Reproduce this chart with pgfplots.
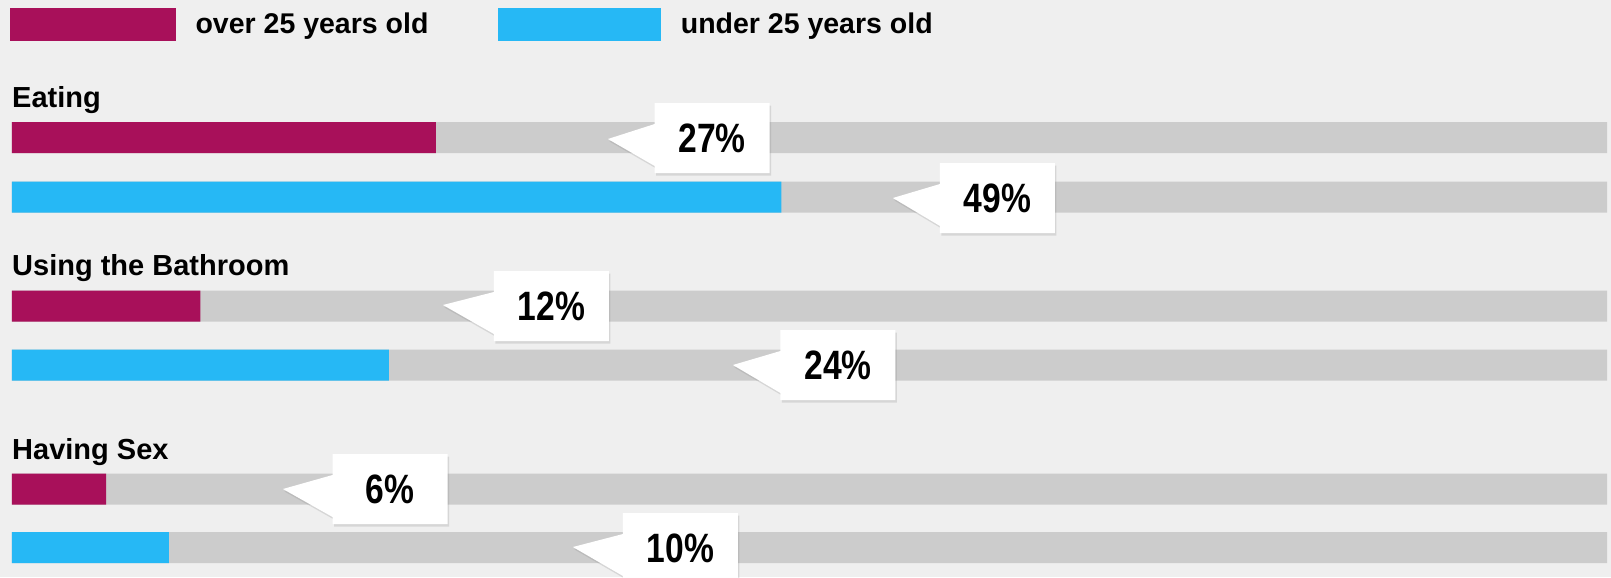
\documentclass[border=0pt]{standalone}
\usepackage{fontspec}
\setmainfont{Liberation Sans}
\newfontfamily\labfont{Liberation Sans}
\newfontfamily\pctfont[FakeStretch=0.82]{Liberation Sans}
\usepackage{pgfplots}
\pgfplotsset{compat=1.18}
\usetikzlibrary{shapes.callouts,shadows}

\definecolor{overc}{RGB}{168,16,90}
\definecolor{underc}{RGB}{38,184,245}
\definecolor{trackc}{RGB}{204,204,204}
\definecolor{paper}{RGB}{239,239,239}

\tikzset{
  pct/.style={rectangle callout, fill=white, draw=none,
    minimum width=115bp, minimum height=70bp, inner sep=0pt,
    callout pointer width=42bp,
    font=\pctfont\bfseries\fontsize{41bp}{46bp}\selectfont,
    drop shadow={shadow xshift=1.5bp, shadow yshift=-2.5bp, opacity=0.22}},
  cat/.style={anchor=base west, inner sep=0pt,
    font=\labfont\bfseries\fontsize{29bp}{34bp}\selectfont}
}

\begin{document}
\begin{tikzpicture}
\begin{axis}[
    scale only axis,
    width=1611bp, height=577bp,
    xmin=-0.764, xmax=101.85,
    ymin=0, ymax=577, y dir=reverse,
    axis lines=none, ticks=none,
    axis background/.style={fill=paper},
    clip=false,
    legend columns=2,
    legend style={at={(0.0062,0.9584)}, anchor=west, draw=none, fill=none,
        inner sep=0pt, nodes={inner sep=0pt},
        font=\labfont\bfseries\fontsize{28.5bp}{34bp}\selectfont,
        /tikz/every odd column/.append style={column sep=20bp},
        /tikz/every even column/.append style={column sep=70bp}},
]
% grey tracks
\addplot[xbar, bar shift=0pt, bar width=31, fill=trackc, draw=none, forget plot]
  coordinates {(101.6,137.5) (101.6,197) (101.6,306) (101.6,365) (101.6,489) (101.6,547.5)};
% over 25
\addplot[xbar, bar shift=0pt, bar width=31, fill=overc, draw=none, forget plot]
  coordinates {(27,137.5) (12,306) (6,489)};
% under 25
\addplot[xbar, bar shift=0pt, bar width=31, fill=underc, draw=none, forget plot]
  coordinates {(49,197) (24,365) (10,547.5)};

\addlegendimage{legend image code/.code={\fill[overc] (0bp,-16bp) rectangle (165bp,16bp);}}
\addlegendentry{over 25 years old}
\addlegendimage{legend image code/.code={\fill[underc] (0bp,-16bp) rectangle (162bp,16bp);}}
\addlegendentry{under 25 years old}

\node[cat] at (axis cs:0,107) {Eating};
\node[cat] at (axis cs:0,275) {Using the Bathroom};
\node[cat] at (axis cs:0,459) {Having Sex};

\node[pct, callout absolute pointer={(axis cs:37.96,139)}] at (axis cs:44.6,138) {27\%};
\node[pct, callout absolute pointer={(axis cs:56.11,198)}] at (axis cs:62.77,198) {49\%};
\node[pct, callout absolute pointer={(axis cs:27.45,305)}] at (axis cs:34.36,306) {12\%};
\node[pct, callout absolute pointer={(axis cs:45.92,365)}] at (axis cs:52.61,365) {24\%};
\node[pct, callout absolute pointer={(axis cs:17.26,489)}] at (axis cs:24.08,489) {6\%};
\node[pct, callout absolute pointer={(axis cs:35.73,547)}] at (axis cs:42.58,548) {10\%};
\end{axis}
\pgfresetboundingbox
\useasboundingbox (current axis.south west) rectangle (current axis.north east);
\end{tikzpicture}
\end{document}
